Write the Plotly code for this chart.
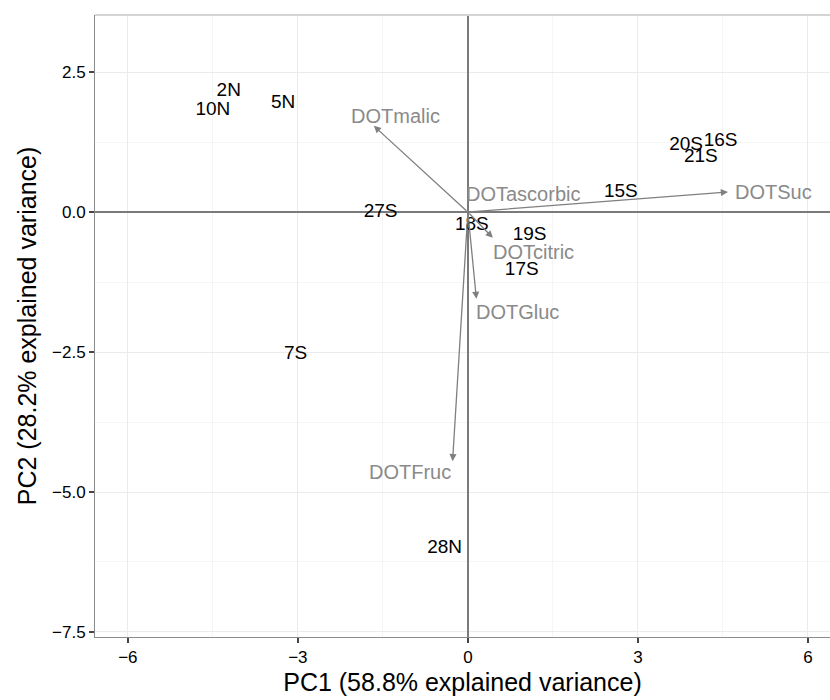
import plotly.graph_objects as go

# Sample scores (PC1, PC2)
samples = ["2N", "10N", "5N", "27S", "18S", "19S", "17S", "15S", "20S", "16S", "21S", "7S", "28N"]
pc1 = [-4.22, -4.50, -3.26, -1.54, 0.07, 1.09, 0.95, 2.70, 3.85, 4.46, 4.11, -3.04, -0.41]
pc2 = [2.16, 1.82, 1.95, 0.00, -0.23, -0.41, -1.04, 0.36, 1.20, 1.27, 0.98, -2.54, -6.00]

# Variable loadings (arrow tips)
variables = ["DOTmalic", "DOTascorbic", "DOTSuc", "DOTcitric", "DOTGluc", "DOTFruc"]
var_x = [-1.66, 0.02, 4.59, 0.44, 0.15, -0.27]
var_y = [1.54, 0.01, 0.36, -0.46, -1.55, -4.45]
# Variable label anchors
lab_x = [-2.10, -0.07, 4.68, 0.41, 0.11, -0.26]
lab_y = [1.71, 0.32, 0.36, -0.71, -1.79, -4.64]
lab_anchor = ["left", "left", "left", "left", "left", "right"]

x_ticks = [-6, -3, 0, 3, 6]
y_ticks = [2.5, 0.0, -2.5, -5.0, -7.5]

FONT = "Liberation Sans, Arial, Helvetica, sans-serif"
ARROW = "#7f7f7f"
VARTXT = "#8a8a8a"

fig = go.Figure()

fig.add_trace(go.Scatter(
    x=pc1, y=pc2, mode="text", text=samples,
    textposition="middle center",
    textfont=dict(family=FONT, size=19, color="#000000"),
    hoverinfo="text", showlegend=False,
))

annotations = []
for v, x, y in zip(variables, var_x, var_y):
    annotations.append(dict(
        x=x, y=y, ax=0, ay=0, xref="x", yref="y", axref="x", ayref="y",
        text="", showarrow=True, arrowhead=2, arrowsize=1.1, arrowwidth=1.3,
        arrowcolor=ARROW, standoff=0, startstandoff=0,
    ))
for v, x, y, a in zip(variables, lab_x, lab_y, lab_anchor):
    annotations.append(dict(
        x=x, y=y, xref="x", yref="y", text=v, showarrow=False,
        xanchor=a, yanchor="middle",
        font=dict(family=FONT, size=20, color=VARTXT),
    ))

fig.update_layout(
    width=830, height=700,
    margin=dict(l=95, r=0, t=15, b=63),
    paper_bgcolor="white", plot_bgcolor="white",
    font=dict(family=FONT, color="#000000"),
    annotations=annotations,
    shapes=[dict(type="line", xref="paper", yref="paper", x0=0, x1=1, y0=1, y1=1,
                 line=dict(color="#d4d4d4", width=2))],
    xaxis=dict(
        range=[-6.58, 6.39], tickvals=x_ticks, ticktext=[("\u2212" if t < 0 else "") + str(abs(t)) for t in x_ticks],
        automargin=False,
        showgrid=True, gridcolor="#ebebeb", gridwidth=1,
        minor=dict(dtick=1.5, tick0=-4.5, showgrid=True, gridcolor="#f5f5f5", gridwidth=1),
        zeroline=True, zerolinecolor="#7a7a7a", zerolinewidth=1.5,
        showline=True, linecolor="#8c8c8c", linewidth=1,
        ticks="outside", ticklen=5, tickwidth=1.5, tickcolor="#444444",
        tickfont=dict(family=FONT, size=17, color="#000000"),
        title=dict(text="PC1 (58.8% explained variance)", font=dict(family=FONT, size=25), standoff=7),
    ),
    yaxis=dict(
        range=[-7.59, 3.52], tickvals=y_ticks,
        ticktext=[("\u2212" if t < 0 else "") + f"{abs(t):.1f}" for t in y_ticks],
        automargin=False,
        showgrid=True, gridcolor="#ebebeb", gridwidth=1,
        minor=dict(dtick=1.25, tick0=1.25, showgrid=True, gridcolor="#f5f5f5", gridwidth=1),
        zeroline=True, zerolinecolor="#7a7a7a", zerolinewidth=1.5,
        showline=True, linecolor="#8c8c8c", linewidth=1,
        ticks="outside", ticklen=5, tickwidth=1.5, tickcolor="#444444",
        tickfont=dict(family=FONT, size=17, color="#000000"),
        title=dict(text="PC2 (28.2% explained variance)", font=dict(family=FONT, size=25), standoff=8),
    ),
)

fig.write_html("out.html", config={"displayModeBar": False},
               post_script="document.body.style.margin='0';document.body.style.padding='0';")
